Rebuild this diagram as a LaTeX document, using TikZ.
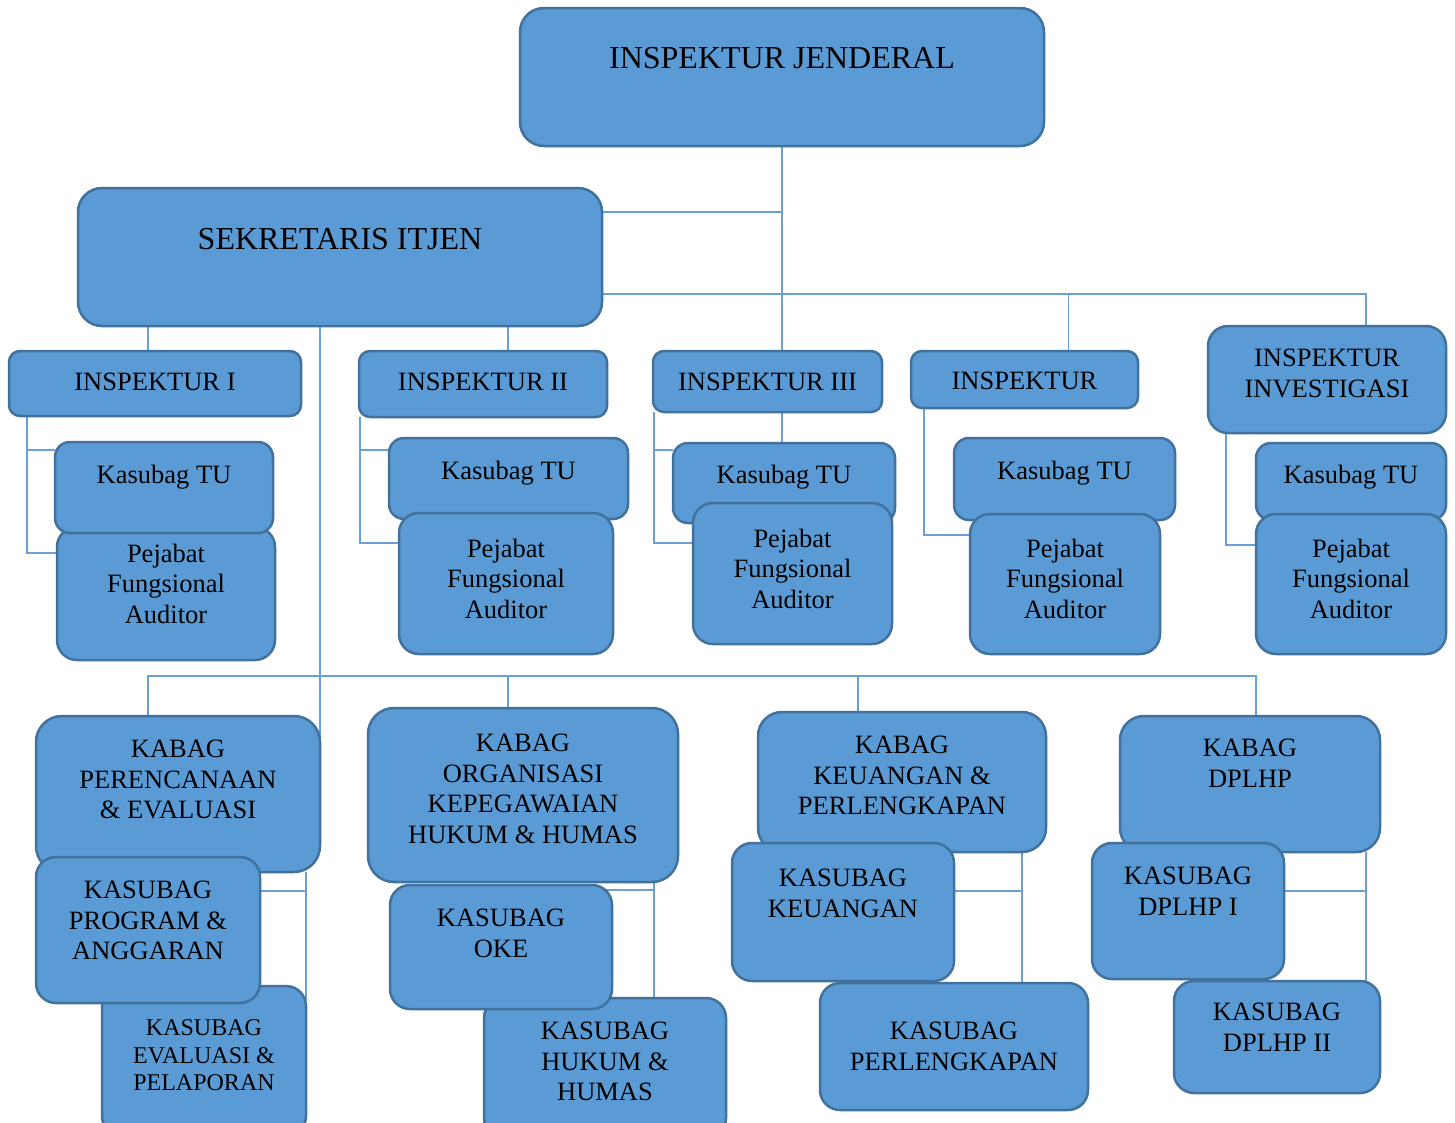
\documentclass[tikz,border=0pt]{standalone}
\usepackage{fontspec}
\setmainfont{Liberation Serif}
\usetikzlibrary{backgrounds}

\definecolor{boxfill}{HTML}{5B9BD5}
\definecolor{boxline}{HTML}{41719C}
\definecolor{linkblue}{HTML}{6A9FD8}

% text block of a box: width, height, top pad, lines
\newcommand{\cell}[4]{\parbox[c][#2][t]{#1}{\centering\vspace*{#3}#4\par}}

\begin{document}
\begin{tikzpicture}[
  x=1pt, y=-1pt,
  box/.style={draw=boxline, fill=boxfill, line width=2.5pt, rounded corners=20pt,
              inner sep=0pt, outer sep=0pt, anchor=north west,
              font=\fontsize{26.5pt}{30.5pt}\selectfont},
  head/.style={box, rounded corners=24pt, font=\fontsize{32pt}{36pt}\selectfont},
  bar/.style={box, rounded corners=11pt},
  tu/.style={box, rounded corners=15pt},
  small/.style={font=\fontsize{24pt}{27.5pt}\selectfont},
  link/.style={draw=linkblue, line width=1.3pt},
]
\useasboundingbox (0,0) rectangle (1455,1122);

% --- Top ---
\node[head] (ij) at (520,8) {\cell{524pt}{138pt}{39pt}{INSPEKTUR JENDERAL}};
\node[head] (sek) at (78,188) {\cell{524pt}{138pt}{40pt}{SEKRETARIS ITJEN}};

% --- Inspektur columns ---
\node[bar] (i1) at (9,351) {\cell{292pt}{65pt}{22pt}{INSPEKTUR I}};
\node[box] (p1) at (57,527) {\cell{218pt}{133pt}{17pt}{Pejabat\\Fungsional\\Auditor}};
\node[tu] (t1) at (55,442) {\cell{218pt}{91pt}{23pt}{Kasubag TU}};

\node[bar] (i2) at (359,351) {\cell{248pt}{66pt}{22pt}{INSPEKTUR II}};
\node[tu] (t2) at (389,438) {\cell{239pt}{81pt}{23pt}{Kasubag TU}};
\node[box] (p2) at (399,513) {\cell{214pt}{141pt}{26pt}{Pejabat\\Fungsional\\Auditor}};

\node[bar] (i3) at (653,351) {\cell{229pt}{61pt}{22pt}{INSPEKTUR III}};
\node[tu] (t3) at (673,443) {\cell{222pt}{80pt}{22pt}{Kasubag TU}};
\node[box] (p3) at (693,503) {\cell{199pt}{141pt}{26pt}{Pejabat\\Fungsional\\Auditor}};

\node[bar] (i4) at (911,351) {\cell{227pt}{57pt}{21pt}{INSPEKTUR}};
\node[tu] (t4) at (954,438) {\cell{221pt}{82pt}{23pt}{Kasubag TU}};
\node[box] (p4) at (970,514) {\cell{190pt}{140pt}{25pt}{Pejabat\\Fungsional\\Auditor}};

\node[box] (iv) at (1208,326) {\cell{238pt}{107pt}{23pt}{INSPEKTUR\\INVESTIGASI}};
\node[tu] (t5) at (1256,443) {\cell{190pt}{77pt}{22pt}{Kasubag TU}};
\node[box] (p5) at (1256,514) {\cell{190pt}{140pt}{25pt}{Pejabat\\Fungsional\\Auditor}};

% --- Kabag columns ---
\node[box, rounded corners=26pt] (kp) at (36,716) {\cell{284pt}{156pt}{24pt}{KABAG\\PERENCANAAN\\\& EVALUASI}};
\node[box, small] (ev) at (102,986) {\cell{204pt}{150pt}{34pt}{KASUBAG\\EVALUASI \&\\PELAPORAN}};
\node[box] (pg) at (36,857) {\cell{224pt}{146pt}{24pt}{KASUBAG\\PROGRAM \&\\ANGGARAN}};

\node[box, rounded corners=26pt] (ko) at (368,708) {\cell{310pt}{174pt}{26pt}{KABAG\\ORGANISASI\\KEPEGAWAIAN\\HUKUM \& HUMAS}};
\node[box] (hk) at (484,998) {\cell{242pt}{140pt}{24pt}{KASUBAG\\HUKUM \&\\HUMAS}};
\node[box] (ok) at (390,885) {\cell{222pt}{124pt}{24pt}{KASUBAG\\OKE}};

\node[box, rounded corners=24pt] (kk) at (758,712) {\cell{288pt}{140pt}{24pt}{KABAG\\KEUANGAN \&\\PERLENGKAPAN}};
\node[box] (pl) at (820,983) {\cell{268pt}{127pt}{39pt}{KASUBAG\\PERLENGKAPAN}};
\node[box] (sk) at (732,843) {\cell{222pt}{138pt}{26pt}{KASUBAG\\KEUANGAN}};

\node[box, rounded corners=24pt] (kd) at (1120,716) {\cell{260pt}{136pt}{23pt}{KABAG\\DPLHP}};
\node[box] (d1) at (1092,843) {\cell{192pt}{136pt}{24pt}{KASUBAG\\DPLHP I}};
\node[box] (d2) at (1174,981) {\cell{206pt}{112pt}{22pt}{KASUBAG\\DPLHP II}};

% --- Connectors ---
\begin{scope}[on background layer]
  \fill[white] (0,0) rectangle (1455,1122);
  \coordinate (ibus) at ([yshift=-106pt]sek.north east);
  \coordinate (kbus) at (0,676);

  \draw[link] (ij.south) -- (ij.south |- i3.north);
  \draw[link] (ij.south |- i3.south) -- (ij.south |- t3.north);
  \draw[link] ([yshift=-66pt]ij.south) -- ([yshift=-66pt]ij.south -| sek.east);
  \draw[link] (ibus) -| ([xshift=-80pt]iv.north east);
  \draw[link] ([xshift=44pt]i4.north) -- ([xshift=44pt]i4.north |- ibus);
  \draw[link] ([xshift=-7pt]i1.north) -- ([xshift=-7pt]i1.north |- sek.south);
  \draw[link] ([xshift=25pt]i2.north) -- ([xshift=25pt]i2.north |- sek.south);
  \draw[link] (sek.south -| kp.east) -- ([yshift=-24pt]kp.north east);

  \draw[link] ([xshift=18pt]i1.south west) |- ([yshift=-26pt]p1.north west);
  \draw[link] ([xshift=18pt,yshift=-34pt]i1.south west) -- ([yshift=-8pt]t1.north west);
  \draw[link] ([xshift=1pt]i2.south west) |- ([yshift=-30pt]p2.north west);
  \draw[link] ([xshift=1pt,yshift=-33pt]i2.south west) -- ([yshift=-12pt]t2.north west);
  \draw[link] ([xshift=1pt]i3.south west) |- ([yshift=-40pt]p3.north west);
  \draw[link] ([xshift=1pt,yshift=-38pt]i3.south west) -- ([yshift=-7pt]t3.north west);
  \draw[link] ([xshift=13pt]i4.south west) |- ([yshift=-21pt]p4.north west);
  \draw[link] ([xshift=18pt]iv.south west) |- ([yshift=-31pt]p5.north west);

  \draw[link] ([xshift=-30pt]kp.north) -- ([xshift=-30pt]kp.north |- kbus)
    -- ([xshift=6pt]kd.north |- kbus) -- ([xshift=6pt]kd.north);
  \draw[link] ([xshift=-15pt]ko.north) -- ([xshift=-15pt]ko.north |- kbus);
  \draw[link] ([xshift=-44pt]kk.north) -- ([xshift=-44pt]kk.north |- kbus);

  \draw[link] ([xshift=-14pt]kp.south east) -- ([yshift=-14pt]ev.north east);
  \draw[link] ([xshift=-14pt,yshift=-19pt]kp.south east) -- ([xshift=-14pt,yshift=-19pt]kp.south east -| pg.east);
  \draw[link] ([xshift=-24pt]ko.south east) -- ([xshift=-24pt]ko.south east |- hk.north);
  \draw[link] ([xshift=-24pt,yshift=-8pt]ko.south east) -- ([xshift=-24pt,yshift=-8pt]ko.south east -| ok.east);
  \draw[link] ([xshift=-24pt]kk.south east) -- ([xshift=-24pt]kk.south east |- pl.north);
  \draw[link] ([xshift=-24pt,yshift=-39pt]kk.south east) -- ([xshift=-24pt,yshift=-39pt]kk.south east -| sk.east);
  \draw[link] ([xshift=-14pt]kd.south east) -- ([xshift=-14pt]kd.south east |- d2.north);
  \draw[link] ([xshift=-14pt,yshift=-39pt]kd.south east) -- ([xshift=-14pt,yshift=-39pt]kd.south east -| d1.east);
\end{scope}
\end{tikzpicture}
\end{document}
